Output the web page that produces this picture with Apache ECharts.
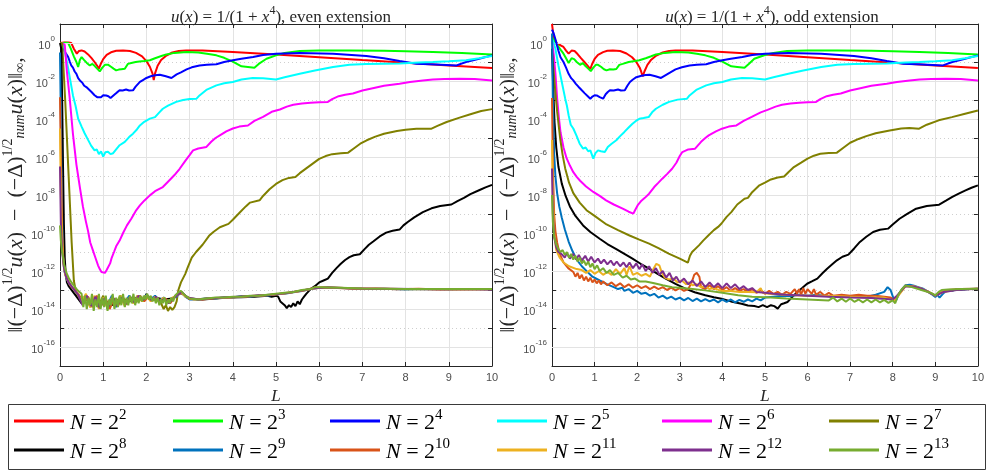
<!DOCTYPE html>
<html>
<head>
<meta charset="utf-8">
<script src="https://cdn.jsdelivr.net/npm/echarts@6/dist/echarts.min.js"></script>
<style>
  html, body { margin: 0; padding: 0; background: #fff; }
  #chart { width: 987px; height: 470px; }
</style>
</head>
<body>
<div id="chart"></div>
<script>
// y values are log10 of the error, x is L

const names = ['N = 2^2', 'N = 2^3', 'N = 2^4', 'N = 2^5', 'N = 2^6', 'N = 2^7',
  'N = 2^8', 'N = 2^9', 'N = 2^10', 'N = 2^11', 'N = 2^12', 'N = 2^13']
const colors = ['#ff0000', '#00ff00', '#0000ff', '#00ffff', '#ff00ff', '#808000',
  '#000000', '#0072bd', '#d95319', '#edb120', '#7e2f8e', '#77ac30']
const majorDecades = [0, -2, -4, -6, -8, -10, -12, -14, -16]

// ---------- even extension ----------
const evenN4 = [[0,0],[0.1,0.02],[0.2,0.03],[0.26,0],[0.32,-0.3],[0.39,-0.56],[0.44,-0.42],[0.5,-0.39],[0.57,-0.45],[0.65,-0.6],[0.73,-0.8],[0.8,-1.0],[0.86,-1.2],[0.9,-1.35],[0.94,-1.12],[1.0,-0.85],[1.08,-0.62],[1.18,-0.49],[1.3,-0.41],[1.46,-0.39],[1.62,-0.42],[1.76,-0.52],[1.9,-0.7],[2.0,-0.95],[2.08,-1.25],[2.14,-1.6],[2.17,-1.95],[2.2,-1.6],[2.26,-1.2],[2.34,-0.9],[2.45,-0.68],[2.6,-0.5],[2.75,-0.42],[2.92,-0.39],[3.3,-0.4],[4,-0.47],[5,-0.6],[6,-0.75],[7,-0.9],[8,-1.04],[9,-1.18],[10,-1.32]]
const evenN8 = [[0,0],[0.05,0],[0.12,0.02],[0.19,0],[0.25,-0.3],[0.32,-0.7],[0.38,-1.0],[0.42,-1.26],[0.46,-0.9],[0.5,-0.74],[0.56,-0.9],[0.62,-1.05],[0.69,-1.18],[0.75,-1.1],[0.8,-1.2],[0.86,-1.35],[0.92,-1.49],[0.98,-1.3],[1.04,-1.15],[1.11,-1.14],[1.18,-1.25],[1.24,-1.35],[1.3,-1.44],[1.36,-1.4],[1.42,-1.38],[1.5,-1.36],[1.57,-1.1],[1.65,-1.05],[1.75,-1.0],[1.84,-0.97],[1.95,-0.95],[2.08,-0.91],[2.2,-0.8],[2.33,-0.7],[2.46,-0.6],[2.65,-0.52],[2.93,-0.47],[3.2,-0.5],[3.4,-0.57],[3.62,-0.65],[3.8,-0.78],[4.0,-0.98],[4.2,-1.23],[4.35,-1.26],[4.5,-1.3],[4.6,-1.1],[4.78,-0.83],[5.0,-0.65],[5.2,-0.52],[5.55,-0.42],[6.0,-0.4],[6.7,-0.39],[7.5,-0.41],[8.0,-0.43],[8.63,-0.47],[9.3,-0.53],[10,-0.6]]
const evenN16 = [[0,0],[0.05,0],[0.08,0],[0.11,-0.46],[0.15,-0.6],[0.19,-0.74],[0.23,-1.0],[0.26,-1.18],[0.3,-1.3],[0.34,-1.5],[0.38,-1.62],[0.42,-1.85],[0.46,-1.97],[0.52,-2.1],[0.56,-2.25],[0.61,-2.32],[0.67,-2.45],[0.73,-2.58],[0.8,-2.75],[0.86,-2.85],[0.9,-2.93],[0.95,-2.85],[1.0,-2.75],[1.07,-2.76],[1.12,-2.8],[1.17,-2.9],[1.21,-2.93],[1.27,-2.7],[1.32,-2.6],[1.38,-2.49],[1.45,-2.5],[1.53,-2.45],[1.6,-2.5],[1.69,-2.49],[1.75,-2.3],[1.85,-2.05],[1.92,-1.95],[2.0,-1.84],[2.1,-1.75],[2.2,-1.7],[2.31,-1.67],[2.45,-1.75],[2.58,-1.84],[2.7,-1.65],[2.8,-1.55],[2.93,-1.39],[3.05,-1.28],[3.23,-1.18],[3.4,-1.15],[3.62,-1.12],[3.8,-1.0],[4.0,-0.91],[4.2,-0.83],[4.47,-0.74],[4.7,-0.63],[5.0,-0.56],[5.55,-0.53],[6.32,-0.56],[7.09,-0.68],[7.5,-0.8],[7.86,-0.95],[8.25,-1.09],[8.7,-1.13],[9.18,-1.18],[9.4,-1.0],[9.7,-0.83],[10,-0.65]]
const evenN32 = [[0,0],[0.05,0],[0.1,-0.3],[0.19,-1.35],[0.3,-2.76],[0.36,-3.3],[0.42,-3.98],[0.5,-4.4],[0.57,-4.75],[0.65,-5.1],[0.72,-5.4],[0.8,-5.65],[0.85,-5.6],[0.9,-5.85],[0.95,-5.7],[1.0,-5.98],[1.05,-5.75],[1.11,-5.72],[1.17,-5.85],[1.23,-5.8],[1.3,-5.6],[1.38,-5.38],[1.5,-5.2],[1.6,-4.95],[1.69,-4.77],[1.78,-4.55],[1.85,-4.34],[1.95,-4.15],[2.08,-3.98],[2.2,-3.9],[2.3,-3.65],[2.38,-3.46],[2.5,-3.3],[2.69,-3.1],[2.85,-3.0],[3.0,-2.95],[3.16,-2.93],[3.23,-2.76],[3.4,-2.45],[3.62,-2.23],[3.8,-2.12],[4.0,-2.05],[4.2,-1.92],[4.46,-1.84],[4.7,-1.85],[5.0,-1.92],[5.2,-1.8],[5.55,-1.62],[5.9,-1.45],[6.32,-1.26],[6.7,-1.15],[7.09,-1.11],[7.5,-1.09],[7.86,-1.08],[8.3,-1.03],[8.63,-1.0],[9.0,-0.96],[9.4,-0.91],[9.7,-0.8],[10,-0.68]]
const evenN64 = [[0,0],[0.05,0],[0.11,-0.1],[0.16,-1.5],[0.22,-2.8],[0.3,-4.8],[0.38,-6.4],[0.46,-7.6],[0.53,-8.6],[0.6,-9.4],[0.65,-9.9],[0.7,-10.5],[0.76,-10.9],[0.82,-11.3],[0.88,-11.7],[0.92,-11.9],[0.96,-12.05],[1.0,-11.95],[1.04,-12.1],[1.08,-11.95],[1.12,-11.9],[1.16,-11.6],[1.19,-11.35],[1.25,-11.0],[1.3,-10.7],[1.38,-10.4],[1.46,-10.0],[1.55,-9.6],[1.65,-9.25],[1.75,-8.85],[1.85,-8.55],[1.95,-8.3],[2.08,-8.02],[2.2,-7.8],[2.38,-7.58],[2.5,-7.3],[2.65,-6.95],[2.77,-6.62],[2.9,-6.2],[3.0,-5.9],[3.08,-5.65],[3.2,-5.55],[3.39,-5.47],[3.5,-5.2],[3.6,-5.0],[3.7,-4.86],[3.85,-4.65],[4.0,-4.5],[4.15,-4.4],[4.35,-4.34],[4.5,-4.1],[4.7,-3.89],[4.9,-3.62],[5.09,-3.5],[5.25,-3.35],[5.4,-3.25],[5.6,-3.18],[5.8,-3.15],[6.0,-3.12],[6.2,-3.1],[6.3,-2.95],[6.45,-2.8],[6.6,-2.72],[6.78,-2.66],[7.0,-2.5],[7.24,-2.38],[7.5,-2.25],[7.86,-2.14],[8.1,-2.05],[8.4,-1.97],[8.63,-1.92],[8.9,-1.89],[9.25,-1.88],[9.6,-1.9],[10,-1.97]]
const evenN128 = [[0,0],[0.05,0],[0.12,-3],[0.2,-7],[0.27,-10.5],[0.32,-12.5],[0.36,-13.0],[0.4,-13.3],[0.5,-13.6],[0.6,-13.3],[0.7,-13.9],[0.8,-13.4],[0.9,-13.8],[1.0,-13.3],[1.1,-14.0],[1.2,-13.4],[1.3,-13.7],[1.4,-13.3],[1.5,-13.8],[1.6,-13.4],[1.7,-13.6],[1.8,-13.3],[1.9,-13.6],[2.0,-13.3],[2.1,-13.55],[2.2,-13.4],[2.3,-13.6],[2.35,-13.75],[2.4,-14.0],[2.45,-13.8],[2.5,-14.1],[2.55,-13.9],[2.6,-14.05],[2.65,-13.9],[2.7,-13.6],[2.74,-13.0],[2.8,-12.6],[2.9,-12.15],[2.95,-11.85],[3.05,-11.3],[3.15,-11.0],[3.3,-10.62],[3.45,-10.15],[3.55,-9.95],[3.7,-9.7],[3.9,-9.52],[4.0,-9.3],[4.15,-8.95],[4.3,-8.6],[4.4,-8.4],[4.62,-8.28],[4.7,-8.05],[4.85,-7.7],[5.0,-7.42],[5.15,-7.22],[5.3,-7.1],[5.45,-7.05],[5.55,-6.85],[5.7,-6.6],[5.85,-6.35],[6.0,-6.1],[6.15,-5.95],[6.3,-5.85],[6.5,-5.8],[6.67,-5.77],[6.8,-5.55],[6.95,-5.3],[7.1,-5.12],[7.3,-4.93],[7.5,-4.78],[7.8,-4.63],[8.0,-4.57],[8.25,-4.51],[8.6,-4.51],[8.75,-4.35],[8.95,-4.16],[9.25,-3.93],[9.5,-3.75],[9.75,-3.58],[10,-3.48]]
const evenN256 = [[0,0],[0.03,-0.3],[0.05,-3.0],[0.07,-6.5],[0.09,-9.5],[0.11,-11.3],[0.13,-12.1],[0.16,-12.6],[0.2,-12.8],[0.3,-13.1],[0.4,-13.4],[0.5,-13.7],[0.6,-13.4],[0.7,-13.8],[0.8,-13.5],[0.9,-13.9],[1.0,-13.5],[1.2,-13.8],[1.4,-13.45],[1.6,-13.6],[1.8,-13.4],[1.95,-13.5],[2.0,-13.2],[2.05,-13.45],[2.2,-13.4],[2.4,-13.5],[2.6,-13.45],[2.8,-13.15],[3.0,-13.45],[3.3,-13.5],[3.6,-13.45],[3.9,-13.4],[4.2,-13.38],[4.5,-13.35],[4.8,-13.3],[4.9,-13.35],[5.0,-13.3],[5.05,-13.35],[5.1,-13.6],[5.2,-13.8],[5.25,-13.95],[5.3,-13.8],[5.35,-13.9],[5.4,-13.7],[5.45,-13.85],[5.5,-13.6],[5.55,-13.75],[5.6,-13.5],[5.65,-13.35],[5.7,-13.2],[5.8,-12.95],[5.9,-12.8],[6.0,-12.6],[6.1,-12.5],[6.2,-12.4],[6.3,-12.1],[6.4,-11.85],[6.5,-11.62],[6.6,-11.42],[6.7,-11.27],[6.8,-11.17],[6.94,-11.12],[7.05,-10.85],[7.15,-10.62],[7.25,-10.45],[7.4,-10.18],[7.55,-9.98],[7.7,-9.88],[7.86,-9.82],[7.95,-9.6],[8.05,-9.42],[8.2,-9.18],[8.4,-8.9],[8.6,-8.7],[8.8,-8.58],[9.06,-8.5],[9.2,-8.32],[9.35,-8.15],[9.5,-7.95],[9.7,-7.75],[9.85,-7.6],[10,-7.47]]
const evenN512 = [[0,-0.5],[0.02,-4.0],[0.04,-8.5],[0.07,-11.2],[0.1,-12.0],[0.15,-12.4],[0.22,-12.7],[0.3,-12.9],[0.4,-13.2],[0.5,-13.5],[0.6,-13.3],[0.7,-13.8],[0.8,-13.4],[0.9,-13.9],[1.0,-13.5],[1.1,-13.8],[1.2,-13.3],[1.3,-13.9],[1.4,-13.4],[1.5,-13.7],[1.6,-13.3],[1.7,-13.6],[1.8,-13.35],[1.9,-13.55],[2.0,-13.25],[2.1,-13.5],[2.2,-13.3],[2.3,-13.55],[2.4,-13.4],[2.5,-13.6],[2.6,-13.45],[2.7,-13.35],[2.8,-13.1],[2.9,-13.35],[3.0,-13.5],[3.2,-13.5],[3.4,-13.42],[3.6,-13.45],[3.8,-13.38],[4.0,-13.4],[4.2,-13.32],[4.4,-13.35],[4.6,-13.28],[4.8,-13.3],[5.0,-13.22],[5.2,-13.2],[5.4,-13.12],[5.6,-13.05],[5.8,-12.95],[6.0,-12.88],[6.5,-12.9],[7.0,-12.95],[7.5,-12.93],[8.0,-12.97],[8.5,-12.95],[9.0,-12.98],[9.5,-12.95],[10,-12.97]]
const evenN1024 = [[0,-2.85],[0.02,-6.0],[0.05,-10.0],[0.08,-11.5],[0.12,-12.1],[0.18,-12.5],[0.25,-12.8],[0.35,-13.0],[0.45,-13.3],[0.55,-13.7],[0.65,-13.35],[0.75,-13.9],[0.85,-13.3],[0.95,-13.85],[1.05,-13.4],[1.15,-14.0],[1.25,-13.45],[1.35,-13.8],[1.45,-13.35],[1.55,-13.75],[1.65,-13.4],[1.75,-13.65],[1.85,-13.3],[1.95,-13.6],[2.05,-13.35],[2.15,-13.55],[2.25,-13.4],[2.35,-13.65],[2.45,-13.45],[2.55,-13.7],[2.65,-13.4],[2.75,-13.15],[2.85,-13.2],[3.0,-13.48],[3.3,-13.5],[3.6,-13.42],[3.9,-13.4],[4.2,-13.36],[4.5,-13.3],[4.8,-13.28],[5.1,-13.2],[5.4,-13.1],[5.7,-13.0],[5.9,-12.87],[6.3,-12.88],[6.8,-12.93],[7.3,-12.92],[7.8,-12.96],[8.3,-12.94],[8.8,-12.97],[9.3,-12.95],[10,-12.96]]
const evenN2048 = [[0,-4.5],[0.02,-8.0],[0.05,-10.5],[0.08,-11.6],[0.12,-12.2],[0.2,-12.6],[0.3,-12.9],[0.4,-13.2],[0.5,-13.6],[0.6,-13.2],[0.7,-13.9],[0.8,-13.3],[0.9,-14.0],[1.0,-13.4],[1.1,-13.9],[1.2,-13.4],[1.3,-13.8],[1.4,-13.3],[1.5,-13.85],[1.6,-13.4],[1.7,-13.7],[1.8,-13.3],[1.9,-13.6],[2.0,-13.3],[2.1,-13.6],[2.2,-13.35],[2.3,-13.6],[2.4,-13.4],[2.5,-13.65],[2.6,-13.4],[2.7,-13.3],[2.8,-13.1],[2.9,-13.35],[3.1,-13.5],[3.4,-13.45],[3.7,-13.42],[4.0,-13.38],[4.3,-13.34],[4.6,-13.3],[4.9,-13.25],[5.2,-13.18],[5.5,-13.08],[5.8,-12.95],[6.1,-12.86],[6.6,-12.9],[7.1,-12.94],[7.6,-12.93],[8.1,-12.96],[8.6,-12.95],[9.1,-12.97],[10,-12.96]]
const evenN4096 = [[0,-6.5],[0.02,-9.5],[0.05,-11.0],[0.09,-11.8],[0.14,-12.3],[0.2,-12.6],[0.3,-12.9],[0.42,-13.25],[0.52,-13.8],[0.62,-13.3],[0.72,-13.85],[0.82,-13.35],[0.92,-13.95],[1.02,-13.45],[1.12,-13.9],[1.22,-13.35],[1.32,-13.85],[1.42,-13.4],[1.52,-13.75],[1.62,-13.35],[1.72,-13.65],[1.82,-13.3],[1.92,-13.55],[2.02,-13.3],[2.12,-13.55],[2.22,-13.35],[2.32,-13.6],[2.42,-13.45],[2.52,-13.7],[2.62,-13.45],[2.72,-13.25],[2.82,-13.1],[2.95,-13.4],[3.2,-13.5],[3.5,-13.44],[3.8,-13.4],[4.1,-13.36],[4.4,-13.32],[4.7,-13.28],[5.0,-13.22],[5.3,-13.15],[5.6,-13.03],[5.85,-12.92],[6.2,-12.86],[6.7,-12.91],[7.2,-12.93],[7.7,-12.94],[8.2,-12.95],[8.7,-12.96],[9.2,-12.95],[10,-12.97]]
const evenN8192 = [[0,-9.6],[0.02,-10.4],[0.05,-11.0],[0.1,-11.7],[0.15,-12.1],[0.2,-12.35],[0.25,-12.55],[0.3,-12.7],[0.35,-12.85],[0.4,-13.0],[0.45,-13.1],[0.5,-13.2],[0.54,-13.9],[0.58,-13.3],[0.62,-14.0],[0.66,-13.4],[0.7,-13.8],[0.74,-13.2],[0.78,-14.1],[0.82,-13.5],[0.86,-13.9],[0.9,-13.2],[0.94,-14.0],[0.98,-13.4],[1.02,-13.9],[1.06,-13.3],[1.1,-14.1],[1.14,-13.5],[1.18,-13.8],[1.22,-13.2],[1.26,-14.0],[1.3,-13.4],[1.34,-13.9],[1.38,-13.3],[1.42,-13.8],[1.46,-13.2],[1.5,-13.9],[1.54,-13.4],[1.58,-13.8],[1.62,-13.3],[1.66,-13.7],[1.7,-13.2],[1.74,-13.8],[1.78,-13.4],[1.82,-13.7],[1.86,-13.3],[1.9,-13.6],[1.94,-13.3],[1.98,-13.5],[2.02,-13.2],[2.06,-13.5],[2.1,-13.3],[2.14,-13.6],[2.18,-13.4],[2.22,-13.7],[2.26,-13.4],[2.3,-13.8],[2.34,-13.5],[2.38,-13.7],[2.42,-13.4],[2.46,-13.8],[2.5,-13.5],[2.54,-13.7],[2.58,-13.4],[2.62,-13.6],[2.66,-13.3],[2.7,-13.4],[2.75,-13.1],[2.8,-13.05],[2.9,-13.3],[3.0,-13.45],[3.2,-13.5],[3.4,-13.45],[3.6,-13.4],[3.8,-13.4],[4.0,-13.35],[4.2,-13.35],[4.4,-13.3],[4.6,-13.3],[4.8,-13.25],[5.0,-13.2],[5.2,-13.15],[5.4,-13.1],[5.6,-13.0],[5.8,-12.95],[5.9,-12.85],[6.0,-12.85],[6.5,-12.88],[7.0,-12.92],[7.5,-12.93],[8.0,-12.95],[8.5,-12.95],[9.0,-12.95],[9.5,-12.95],[10,-12.95]]

// ---------- odd extension ----------
const oddN4 = [[0,1.0],[0.04,0.3],[0.12,-0.04],[0.2,-0.12],[0.27,-0.21],[0.33,-0.4],[0.39,-0.56],[0.46,-0.4],[0.53,-0.42],[0.6,-0.58],[0.68,-0.8],[0.76,-1.0],[0.83,-1.18],[0.9,-1.37],[0.94,-1.12],[1.0,-0.84],[1.08,-0.62],[1.2,-0.48],[1.3,-0.41],[1.43,-0.39],[1.6,-0.42],[1.75,-0.55],[1.88,-0.75],[1.98,-1.0],[2.06,-1.3],[2.1,-1.55],[2.13,-1.76],[2.17,-1.5],[2.24,-1.15],[2.33,-0.88],[2.45,-0.66],[2.6,-0.5],[2.75,-0.42],[2.9,-0.39],[3.3,-0.4],[4,-0.47],[5,-0.6],[6,-0.75],[7,-0.9],[8,-1.04],[9,-1.18],[10,-1.32]]
const oddN8 = [[0,0.3],[0.05,0.15],[0.12,-0.1],[0.2,-0.35],[0.27,-0.56],[0.33,-0.8],[0.39,-1.05],[0.46,-0.8],[0.52,-0.85],[0.58,-1.0],[0.66,-1.15],[0.72,-1.05],[0.78,-1.2],[0.85,-1.35],[0.91,-1.48],[0.97,-1.3],[1.03,-1.15],[1.08,-1.15],[1.15,-1.25],[1.22,-1.38],[1.28,-1.44],[1.36,-1.38],[1.44,-1.4],[1.51,-1.37],[1.58,-1.15],[1.66,-1.1],[1.8,-1.0],[1.95,-0.95],[2.05,-0.91],[2.2,-0.8],[2.33,-0.7],[2.44,-0.6],[2.65,-0.52],[2.9,-0.47],[3.2,-0.5],[3.4,-0.57],[3.6,-0.65],[3.8,-0.78],[4.0,-0.98],[4.21,-1.23],[4.35,-1.26],[4.52,-1.3],[4.62,-1.1],[4.75,-0.83],[5.0,-0.63],[5.2,-0.52],[5.52,-0.42],[6.0,-0.4],[6.7,-0.39],[7.5,-0.41],[8.0,-0.43],[8.63,-0.47],[9.3,-0.53],[10,-0.6]]
const oddN16 = [[0,0.7],[0.04,0.5],[0.08,0.2],[0.12,-0.15],[0.15,-0.4],[0.2,-0.75],[0.27,-1.0],[0.33,-1.3],[0.39,-1.62],[0.45,-1.85],[0.5,-1.97],[0.56,-2.15],[0.62,-2.3],[0.7,-2.49],[0.77,-2.65],[0.84,-2.8],[0.9,-2.93],[0.95,-2.82],[1.0,-2.75],[1.05,-2.76],[1.12,-2.85],[1.2,-2.93],[1.26,-2.7],[1.31,-2.58],[1.36,-2.49],[1.45,-2.5],[1.55,-2.45],[1.62,-2.5],[1.71,-2.49],[1.77,-2.25],[1.83,-2.05],[1.9,-1.92],[1.98,-1.8],[2.1,-1.72],[2.2,-1.68],[2.29,-1.67],[2.43,-1.75],[2.56,-1.84],[2.7,-1.65],[2.8,-1.52],[2.9,-1.39],[3.05,-1.28],[3.23,-1.18],[3.4,-1.15],[3.62,-1.12],[3.8,-1.0],[4.0,-0.91],[4.2,-0.83],[4.47,-0.74],[4.7,-0.63],[5.0,-0.56],[5.55,-0.53],[6.32,-0.56],[7.09,-0.68],[7.5,-0.8],[7.86,-0.95],[8.25,-1.09],[8.7,-1.13],[9.18,-1.18],[9.4,-1.0],[9.7,-0.83],[10,-0.65]]
const oddN32 = [[0,0.2],[0.04,0],[0.08,-0.3],[0.15,-1.18],[0.23,-2.05],[0.31,-2.93],[0.35,-3.3],[0.39,-3.8],[0.44,-4.3],[0.5,-4.5],[0.58,-4.9],[0.65,-5.3],[0.73,-5.56],[0.79,-5.5],[0.85,-5.7],[0.9,-5.65],[0.97,-6.09],[1.02,-5.8],[1.08,-5.65],[1.15,-5.7],[1.24,-5.74],[1.31,-5.47],[1.4,-5.3],[1.51,-5.12],[1.6,-4.9],[1.7,-4.68],[1.8,-4.45],[1.89,-4.25],[1.97,-4.1],[2.05,-3.99],[2.15,-3.95],[2.27,-3.9],[2.35,-3.65],[2.44,-3.46],[2.6,-3.25],[2.75,-3.1],[2.95,-2.98],[3.17,-2.93],[3.23,-2.76],[3.4,-2.45],[3.62,-2.23],[3.8,-2.12],[4.0,-2.05],[4.2,-1.92],[4.46,-1.84],[4.7,-1.85],[5.0,-1.92],[5.2,-1.8],[5.55,-1.62],[5.9,-1.45],[6.32,-1.26],[6.7,-1.15],[7.09,-1.11],[7.5,-1.09],[7.86,-1.08],[8.3,-1.03],[8.63,-1.0],[9.0,-0.96],[9.4,-0.91],[9.7,-0.8],[10,-0.68]]
const oddN64 = [[0,0.1],[0.04,-0.6],[0.08,-1.6],[0.12,-2.9],[0.16,-3.9],[0.2,-4.7],[0.27,-5.5],[0.34,-6.05],[0.42,-6.45],[0.5,-6.8],[0.58,-7.05],[0.66,-7.25],[0.8,-7.55],[0.97,-7.84],[1.12,-8.05],[1.27,-8.28],[1.45,-8.5],[1.66,-8.72],[1.8,-8.88],[1.91,-8.98],[1.95,-8.8],[2.01,-8.55],[2.1,-8.3],[2.18,-8.15],[2.28,-7.93],[2.4,-7.58],[2.5,-7.35],[2.59,-7.14],[2.7,-6.9],[2.82,-6.62],[2.92,-6.3],[3.0,-5.95],[3.06,-5.74],[3.2,-5.6],[3.36,-5.56],[3.5,-5.2],[3.6,-5.0],[3.68,-4.86],[3.85,-4.65],[3.99,-4.51],[4.15,-4.4],[4.33,-4.34],[4.5,-4.1],[4.69,-3.89],[4.9,-3.65],[5.06,-3.52],[5.25,-3.35],[5.4,-3.25],[5.6,-3.18],[5.8,-3.15],[6.0,-3.12],[6.2,-3.1],[6.3,-2.95],[6.45,-2.8],[6.6,-2.72],[6.78,-2.66],[7.0,-2.5],[7.24,-2.38],[7.5,-2.25],[7.86,-2.14],[8.1,-2.05],[8.4,-1.97],[8.63,-1.92],[8.9,-1.89],[9.25,-1.88],[9.6,-1.9],[10,-1.97]]
const oddN128 = [[0,-0.5],[0.04,-1.5],[0.08,-2.6],[0.12,-3.6],[0.19,-5.0],[0.25,-5.9],[0.31,-6.6],[0.4,-7.35],[0.5,-7.9],[0.65,-8.4],[0.81,-8.8],[1.0,-9.1],[1.28,-9.55],[1.55,-9.85],[1.82,-10.13],[2.05,-10.35],[2.28,-10.56],[2.5,-10.8],[2.74,-11.09],[3.0,-11.35],[3.19,-11.56],[3.24,-11.2],[3.29,-11.0],[3.45,-10.65],[3.55,-10.4],[3.67,-10.13],[3.8,-9.85],[3.9,-9.68],[3.98,-9.5],[4.1,-9.15],[4.21,-8.9],[4.35,-8.5],[4.52,-8.2],[4.6,-8.15],[4.7,-7.85],[4.87,-7.49],[5.0,-7.35],[5.14,-7.18],[5.3,-7.08],[5.45,-7.03],[5.55,-6.8],[5.68,-6.53],[5.85,-6.3],[6.0,-6.09],[6.15,-5.93],[6.3,-5.83],[6.5,-5.79],[6.69,-5.77],[6.85,-5.5],[7.0,-5.25],[7.2,-5.05],[7.38,-4.9],[7.6,-4.75],[7.93,-4.6],[8.2,-4.5],[8.39,-4.47],[8.62,-4.51],[8.8,-4.3],[9.08,-4.07],[9.39,-3.9],[9.7,-3.72],[10,-3.55]]
const oddN256 = [[0,-0.3],[0.03,-2.5],[0.06,-4.2],[0.1,-5.5],[0.15,-6.5],[0.23,-7.4],[0.32,-8.05],[0.42,-8.6],[0.55,-9.1],[0.73,-9.6],[0.9,-9.95],[1.12,-10.3],[1.3,-10.58],[1.51,-10.85],[1.7,-11.1],[1.89,-11.35],[2.08,-11.62],[2.28,-11.88],[2.47,-12.14],[2.67,-12.4],[2.9,-12.68],[3.13,-12.93],[3.35,-13.12],[3.6,-13.28],[3.8,-13.38],[3.98,-13.46],[4.2,-13.6],[4.45,-13.72],[4.6,-13.82],[4.75,-13.84],[4.85,-13.9],[4.95,-13.8],[5.05,-13.9],[5.14,-13.8],[5.22,-13.85],[5.3,-13.98],[5.38,-13.75],[5.45,-13.7],[5.53,-13.63],[5.65,-13.35],[5.76,-13.1],[5.88,-12.88],[5.99,-12.67],[6.1,-12.55],[6.23,-12.4],[6.35,-12.12],[6.46,-11.88],[6.58,-11.65],[6.69,-11.44],[6.82,-11.25],[6.96,-11.14],[7.1,-10.8],[7.23,-10.47],[7.38,-10.2],[7.54,-9.95],[7.7,-9.83],[7.89,-9.77],[8.0,-9.55],[8.16,-9.25],[8.35,-8.98],[8.55,-8.72],[8.8,-8.58],[9.09,-8.51],[9.25,-8.3],[9.4,-8.1],[9.55,-7.93],[9.71,-7.76],[9.85,-7.62],[10,-7.49]]
const oddN512 = [[0,0.5],[0.02,-3.0],[0.05,-5.8],[0.08,-7.0],[0.12,-7.9],[0.17,-8.6],[0.23,-9.2],[0.3,-9.8],[0.39,-10.45],[0.48,-10.95],[0.58,-11.4],[0.7,-11.75],[0.81,-12.0],[0.95,-12.3],[1.12,-12.5],[1.3,-12.7],[1.45,-12.85],[1.55,-12.95],[1.65,-12.88],[1.7,-13.05],[1.8,-12.95],[1.9,-13.15],[2.0,-13.05],[2.1,-13.2],[2.2,-13.15],[2.3,-13.3],[2.4,-13.2],[2.5,-13.4],[2.6,-13.3],[2.7,-13.45],[2.8,-13.35],[2.9,-13.5],[3.0,-13.4],[3.1,-13.55],[3.2,-13.42],[3.3,-13.58],[3.4,-13.45],[3.5,-13.6],[3.6,-13.48],[3.7,-13.6],[3.8,-13.5],[3.9,-13.65],[4.0,-13.5],[4.1,-13.62],[4.2,-13.5],[4.3,-13.65],[4.4,-13.52],[4.5,-13.62],[4.6,-13.5],[4.7,-13.6],[4.8,-13.45],[4.9,-13.55],[5.0,-13.4],[5.2,-13.35],[5.4,-13.3],[5.6,-13.32],[5.8,-13.25],[6.0,-13.3],[6.2,-13.25],[6.4,-13.3],[6.6,-13.35],[6.8,-13.3],[7.0,-13.35],[7.2,-13.3],[7.4,-13.35],[7.6,-13.25],[7.8,-13.1],[7.88,-12.85],[7.95,-13.0],[8.02,-13.45],[8.08,-13.55],[8.15,-13.2],[8.22,-12.95],[8.3,-12.75],[8.4,-12.72],[8.5,-12.78],[8.6,-12.85],[8.7,-12.92],[8.8,-13.05],[8.9,-13.2],[9.0,-13.37],[9.05,-13.25],[9.1,-13.4],[9.2,-13.15],[9.3,-13.0],[9.4,-13.05],[9.5,-12.95],[9.6,-13.0],[9.8,-12.95],[10,-12.93]]
const oddN1024 = [[0,-2.9],[0.02,-6.5],[0.05,-9.0],[0.08,-9.9],[0.12,-10.5],[0.18,-11.1],[0.27,-11.55],[0.38,-11.85],[0.5,-12.05],[0.55,-12.3],[0.6,-12.1],[0.65,-12.4],[0.7,-12.2],[0.75,-12.5],[0.8,-12.3],[0.85,-12.55],[0.9,-12.35],[0.95,-12.6],[1.0,-12.45],[1.05,-12.65],[1.1,-12.5],[1.15,-12.7],[1.2,-12.55],[1.3,-12.75],[1.4,-12.6],[1.5,-12.8],[1.6,-12.65],[1.7,-12.85],[1.8,-12.7],[1.9,-12.88],[2.0,-12.75],[2.1,-12.9],[2.2,-12.8],[2.3,-12.95],[2.4,-12.82],[2.5,-12.95],[2.6,-12.85],[2.7,-13.0],[2.8,-12.88],[2.9,-13.02],[3.0,-12.9],[3.1,-13.05],[3.2,-12.95],[3.28,-12.6],[3.34,-12.2],[3.4,-12.1],[3.46,-12.3],[3.5,-12.85],[3.6,-12.95],[3.7,-12.75],[3.8,-12.95],[3.9,-12.8],[4.0,-13.0],[4.1,-12.85],[4.2,-13.05],[4.3,-12.9],[4.4,-13.05],[4.5,-12.95],[4.6,-13.1],[4.7,-12.95],[4.8,-13.15],[4.9,-13.0],[5.0,-13.2],[5.1,-13.05],[5.2,-13.2],[5.3,-13.1],[5.4,-13.25],[5.5,-13.1],[5.6,-13.2],[5.7,-12.95],[5.75,-13.2],[5.8,-12.95],[5.85,-13.25],[5.9,-12.9],[5.95,-13.2],[6.0,-12.95],[6.1,-13.2],[6.15,-12.95],[6.2,-13.25],[6.3,-13.1],[6.4,-13.3],[6.5,-13.15],[6.6,-13.3],[6.8,-13.25],[7.0,-13.3],[7.2,-13.25],[7.4,-13.3],[7.6,-13.3],[7.8,-13.35],[7.95,-13.4],[8.05,-13.55],[8.15,-13.2],[8.3,-12.78],[8.45,-12.8],[8.6,-12.9],[8.8,-13.05],[9.0,-13.28],[9.1,-13.15],[9.3,-13.0],[9.6,-12.95],[10,-12.93]]
const oddN2048 = [[0,-5.1],[0.02,-8.0],[0.05,-10.0],[0.1,-10.9],[0.18,-11.3],[0.27,-11.55],[0.4,-11.75],[0.58,-11.9],[0.7,-11.95],[0.8,-12.1],[0.9,-11.95],[1.0,-12.15],[1.1,-12.0],[1.2,-12.2],[1.3,-12.05],[1.4,-12.2],[1.5,-11.9],[1.6,-12.15],[1.7,-11.85],[1.75,-12.2],[1.82,-11.75],[1.9,-12.2],[2.0,-12.1],[2.1,-12.25],[2.2,-12.15],[2.3,-12.3],[2.38,-11.9],[2.45,-11.62],[2.52,-11.7],[2.58,-12.1],[2.65,-12.35],[2.75,-12.45],[2.85,-12.4],[2.95,-12.6],[3.05,-12.5],[3.15,-12.7],[3.21,-12.6],[3.3,-12.75],[3.4,-12.7],[3.5,-12.85],[3.6,-12.8],[3.7,-12.95],[3.8,-12.9],[3.98,-13.05],[4.2,-13.05],[4.4,-13.1],[4.6,-13.1],[4.8,-13.12],[4.9,-12.9],[4.95,-13.15],[5.1,-13.2],[5.3,-13.22],[5.5,-13.25],[5.7,-13.28],[6.0,-13.3],[6.3,-13.3],[6.6,-13.32],[7.0,-13.35],[7.4,-13.38],[7.8,-13.4],[7.95,-13.5],[8.05,-13.55],[8.2,-13.1],[8.3,-12.8],[8.5,-12.8],[8.7,-12.95],[9.0,-13.3],[9.2,-13.1],[9.5,-12.98],[10,-12.93]]
const oddN4096 = [[0,-6.6],[0.02,-9.0],[0.05,-10.2],[0.1,-10.75],[0.15,-11.0],[0.22,-11.1],[0.3,-11.3],[0.35,-11.05],[0.42,-11.35],[0.5,-11.1],[0.57,-11.4],[0.63,-11.15],[0.7,-11.45],[0.78,-11.2],[0.85,-11.5],[0.92,-11.25],[1.0,-11.55],[1.08,-11.35],[1.15,-11.6],[1.22,-11.4],[1.3,-11.65],[1.38,-11.45],[1.45,-11.7],[1.52,-11.5],[1.6,-11.75],[1.68,-11.55],[1.75,-11.8],[1.82,-11.55],[1.9,-11.85],[1.98,-11.6],[2.05,-11.9],[2.12,-11.65],[2.2,-12.0],[2.28,-11.75],[2.36,-12.1],[2.44,-11.85],[2.52,-12.2],[2.6,-12.0],[2.68,-12.35],[2.76,-12.1],[2.84,-12.5],[2.92,-12.3],[3.0,-12.6],[3.1,-12.4],[3.2,-12.7],[3.3,-12.5],[3.4,-12.8],[3.5,-12.55],[3.6,-12.85],[3.7,-12.6],[3.8,-12.85],[3.9,-12.65],[4.0,-12.9],[4.1,-12.65],[4.2,-12.9],[4.3,-12.7],[4.4,-12.95],[4.5,-12.8],[4.6,-13.0],[4.7,-12.9],[4.8,-13.1],[5.0,-13.15],[5.2,-13.2],[5.5,-13.25],[6.0,-13.3],[6.5,-13.35],[7.0,-13.4],[7.5,-13.42],[8.0,-13.5],[8.1,-13.3],[8.3,-12.8],[8.5,-12.82],[8.7,-12.95],[9.0,-13.3],[9.2,-13.1],[9.5,-13.0],[10,-12.93]]
const oddN8192 = [[0,-8.0],[0.02,-9.4],[0.05,-10.2],[0.1,-10.6],[0.15,-10.85],[0.2,-11.0],[0.25,-10.9],[0.3,-11.15],[0.35,-11.0],[0.4,-11.3],[0.45,-11.1],[0.5,-11.4],[0.55,-11.2],[0.6,-11.5],[0.65,-11.3],[0.7,-11.6],[0.75,-11.45],[0.8,-11.7],[0.85,-11.5],[0.9,-11.8],[0.95,-11.6],[1.0,-11.9],[1.06,-11.7],[1.12,-12.0],[1.2,-11.85],[1.28,-12.1],[1.36,-11.95],[1.45,-12.2],[1.55,-12.1],[1.66,-12.35],[1.75,-12.25],[1.85,-12.45],[1.95,-12.4],[2.05,-12.55],[2.2,-12.55],[2.4,-12.65],[2.6,-12.75],[2.82,-12.85],[3.0,-12.88],[3.3,-12.95],[3.6,-13.02],[4.0,-13.15],[4.37,-13.28],[4.7,-13.35],[5.14,-13.4],[5.5,-13.45],[6.0,-13.5],[6.5,-13.55],[6.6,-13.4],[6.7,-13.6],[6.8,-13.45],[6.9,-13.62],[7.0,-13.45],[7.1,-13.62],[7.2,-13.5],[7.3,-13.65],[7.4,-13.5],[7.5,-13.65],[7.6,-13.5],[7.7,-13.65],[7.8,-13.52],[7.9,-13.68],[8.0,-13.55],[8.06,-13.7],[8.12,-13.3],[8.2,-13.0],[8.3,-12.76],[8.45,-12.85],[8.6,-12.95],[8.75,-13.05],[8.9,-13.15],[9.0,-13.28],[9.08,-13.1],[9.15,-13.0],[9.3,-12.98],[9.6,-12.95],[10,-12.93]]

const evenData = [evenN4, evenN8, evenN16, evenN32, evenN64, evenN128, evenN256, evenN512, evenN1024, evenN2048, evenN4096, evenN8192]
const oddData = [oddN4, oddN8, oddN16, oddN32, oddN64, oddN128, oddN256, oddN512, oddN1024, oddN2048, oddN4096, oddN8192]

const chart = echarts.init(document.getElementById('chart'), null, { renderer: 'canvas' })

const SERIF = 'Liberation Serif'
const SANS = 'Liberation Sans'
const INK = '#262626'

// 10^k tick labels
const tickRich = {
  a: { fontFamily: SANS, fontSize: 11, color: '#4d4d4d', lineHeight: 16, verticalAlign: 'bottom' },
  b: { fontFamily: SANS, fontSize: 8, color: '#4d4d4d', lineHeight: 16, verticalAlign: 'top' },
}
function decadeLabel(v) {
  const k = Math.round(v)
  if (k % 2 !== 0) return ''
  return '{a|10}{b|' + k + '}'
}

const mathRich = {
  n: { fontFamily: SERIF, fontSize: 22, color: INK, lineHeight: 26, verticalAlign: 'bottom' },
  i: { fontFamily: SERIF, fontStyle: 'italic', fontSize: 22, color: INK, lineHeight: 26, verticalAlign: 'bottom' },
  s: { fontFamily: SERIF, fontSize: 14, color: INK, lineHeight: 26, verticalAlign: 'top' },
  d: { fontFamily: SERIF, fontStyle: 'italic', fontSize: 14, color: INK, lineHeight: 20, verticalAlign: 'bottom' },
}
const yName = '{n|‖(−Δ)}{s|1/2}{i|u}{n|(}{i|x}{n|)  −  (−Δ)}{s|1/2}{d|num}{i|u}{n|(}{i|x}{n|)‖}{d|∞}{n|,}'

const grids = [
  { left: 60, top: 24, width: 432, height: 342 },
  { left: 552, top: 24, width: 431, height: 342 },
]

function makeXAxes(g) {
  return [
    {
      gridIndex: g, type: 'value', min: 0, max: 10, interval: 1,
      axisLine: { show: true, onZero: false, lineStyle: { color: INK, width: 1 } },
      axisTick: { show: true, inside: true, length: 4, lineStyle: { color: INK } },
      axisLabel: { show: true, margin: 6, color: '#4d4d4d', fontFamily: SANS, fontSize: 11 },
      splitLine: { show: true, lineStyle: { color: '#e3e3e3', width: 1, type: 'solid' } },
      name: 'L', nameLocation: 'middle', nameGap: 14,
      nameTextStyle: { fontFamily: SERIF, fontStyle: 'italic', fontSize: 17, color: INK },
    },
    {
      gridIndex: g, type: 'value', position: 'top', min: 0, max: 10, interval: 1,
      axisLine: { show: true, onZero: false, lineStyle: { color: INK, width: 1 } },
      axisTick: { show: true, inside: true, length: 4, lineStyle: { color: INK } },
      axisLabel: { show: false }, splitLine: { show: false },
    },
  ]
}
function makeYAxes(g) {
  return [
    {
      gridIndex: g, type: 'value', min: -17, max: 1, interval: 1,
      axisLine: { show: true, onZero: false, lineStyle: { color: INK, width: 1 } },
      axisTick: { show: true, inside: true, length: 4, lineStyle: { color: INK } },
      axisLabel: { show: true, margin: 5, formatter: decadeLabel, rich: tickRich },
      splitLine: { show: true, lineStyle: { color: '#cfcfcf', width: 1, type: [1, 3] } },
      name: yName, nameLocation: 'middle', nameRotate: 90, nameGap: 28,
      nameTextStyle: { rich: mathRich },
    },
    {
      gridIndex: g, type: 'value', position: 'right', min: -17, max: 1, interval: 1,
      axisLine: { show: true, onZero: false, lineStyle: { color: INK, width: 1 } },
      axisTick: { show: true, inside: true, length: 4, lineStyle: { color: INK } },
      axisLabel: { show: false }, splitLine: { show: false },
    },
  ]
}

const series = []
const panels = [evenData, oddData]
panels.forEach((dataSet, g) => {
  // solid major grid lines at even decades
  series.push({
    type: 'line', xAxisIndex: g * 2, yAxisIndex: g * 2, data: [], z: 1, silent: true,
    markLine: {
      silent: true, symbol: ['none', 'none'], animation: false,
      label: { show: false },
      lineStyle: { type: 'solid', color: '#e3e3e3', width: 1 },
      emphasis: { disabled: true },
      data: majorDecades.map(v => ({ yAxis: v })),
    },
  })
  dataSet.forEach((d, i) => {
    series.push({
      name: names[i], type: 'line', xAxisIndex: g * 2, yAxisIndex: g * 2,
      data: d, symbol: 'none', showSymbol: false, z: 3 + i,
      lineStyle: { color: colors[i], width: 2 },
      itemStyle: { color: colors[i] },
      emphasis: { disabled: true },
      animation: false,
    })
  })
})

const legendRich = {
  n: { fontFamily: SERIF, fontStyle: 'italic', fontSize: 22, color: '#000', lineHeight: 26, verticalAlign: 'bottom' },
  t: { fontFamily: SERIF, fontSize: 22, color: '#000', lineHeight: 26, verticalAlign: 'bottom' },
  s: { fontFamily: SERIF, fontSize: 15, color: '#000', lineHeight: 26, verticalAlign: 'top' },
}
function legendText(name) {
  const parts = name.split('^')
  return '{n|N}{t| = 2}{s|' + parts[1] + '}'
}
const legendCols = [14, 173, 330, 497, 662, 829]
const legends = legendCols.map((x, c) => ({
  left: x, top: 408, orient: 'vertical', padding: 0, itemGap: 3,
  icon: 'rect', itemWidth: 50, itemHeight: 3, selectedMode: false,
  data: [names[c], names[c + 6]],
  formatter: legendText,
  textStyle: { rich: legendRich, padding: [0, 0, 0, 1] },
}))

const titleRich = {
  n: { fontFamily: SERIF, fontWeight: 'normal', fontSize: 17, color: INK, lineHeight: 21, verticalAlign: 'bottom' },
  i: { fontFamily: SERIF, fontWeight: 'normal', fontStyle: 'italic', fontSize: 17, color: INK, lineHeight: 21, verticalAlign: 'bottom' },
  s: { fontFamily: SERIF, fontWeight: 'normal', fontSize: 12, color: INK, lineHeight: 21, verticalAlign: 'top' },
}
const titleBase = '{i|u}{n|(}{i|x}{n|) = 1/(1 + }{i|x}{s|4}{n|), '

chart.setOption({
  animation: false,
  backgroundColor: '#ffffff',
  title: [
    { text: titleBase + 'even extension}', left: 276, top: 0, textAlign: 'center', textStyle: { fontWeight: 'normal', rich: titleRich } },
    { text: titleBase + 'odd extension}', left: 767, top: 0, textAlign: 'center', textStyle: { fontWeight: 'normal', rich: titleRich } },
  ],
  grid: grids,
  xAxis: [...makeXAxes(0), ...makeXAxes(1)],
  yAxis: [...makeYAxes(0), ...makeYAxes(1)],
  legend: legends,
  tooltip: { show: false },
  series: series,
  graphic: [{
    type: 'rect', left: 6, top: 402, silent: true,
    shape: { width: 977, height: 65 },
    style: { fill: 'none', stroke: '#3a3a3a', lineWidth: 1 },
  }],
})
</script>
</body>
</html>
